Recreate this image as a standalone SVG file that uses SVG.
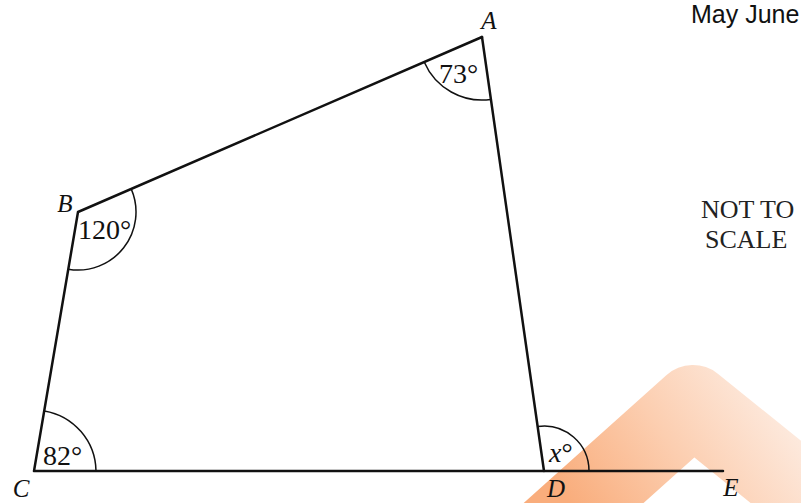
<svg xmlns="http://www.w3.org/2000/svg" width="801" height="503" viewBox="0 0 801 503">
  <defs>
    <linearGradient id="wm" gradientUnits="userSpaceOnUse" x1="760" y1="370" x2="570" y2="503">
      <stop offset="0" stop-color="#fdebe0"/>
      <stop offset="0.5" stop-color="#fcceb0"/>
      <stop offset="1" stop-color="#f9ad7c"/>
    </linearGradient>
    <style>
      .edge { stroke: #111; stroke-width: 2.5; fill: none; stroke-linecap: round; stroke-linejoin: round; }
      .arc { stroke: #111; stroke-width: 1.5; fill: none; }
      .pt { font-family: "Liberation Serif", "Times New Roman", serif; font-style: italic; font-size: 25px; fill: #111; text-anchor: middle; }
      .ang { font-family: "Liberation Serif", "Times New Roman", serif; font-size: 28px; fill: #111; }
      .note { font-family: "Liberation Serif", "Times New Roman", serif; font-size: 26px; fill: #222; }
      .hdr { font-family: "Liberation Sans", Arial, sans-serif; font-size: 25px; fill: #111; }
    </style>
  </defs>
  <rect width="801" height="503" fill="#fff"/>
  <g id="watermark">
    <path d="M 520 560 L 693 405 L 860 540" fill="none" stroke="url(#wm)" stroke-width="80" stroke-linejoin="round"/>
  </g>
  <g id="connectors">
    <polyline class="edge" points="482,37 78,212 34,471 723,471"/>
    <line class="edge" x1="482" y1="37" x2="544" y2="471"/>
  </g>
  <g id="angle-A">
    <path class="arc" d="M 424.2 62 A 63 63 0 0 0 490.9 99.4"/>
    <text class="ang" x="439" y="83">73°</text>
    <text class="pt" x="489" y="29">A</text>
  </g>
  <g id="angle-B">
    <path class="arc" d="M 131.2 188.9 A 58 58 0 0 1 68.3 269.2"/>
    <text class="ang" x="78" y="239">120°</text>
    <text class="pt" x="65" y="212">B</text>
  </g>
  <g id="angle-C">
    <path class="arc" d="M 44.3 410.9 A 62 62 0 0 1 96 471"/>
    <text class="ang" x="43" y="465">82°</text>
    <text class="pt" x="21" y="497">C</text>
  </g>
  <g id="angle-D">
    <path class="arc" d="M 537.6 426.4 A 45 45 0 0 1 589 471"/>
    <text class="ang" x="549" y="462"><tspan font-style="italic">x</tspan>°</text>
    <text class="pt" x="556" y="497">D</text>
  </g>
  <g id="point-E">
    <text class="pt" x="731" y="496">E</text>
  </g>
  <g id="notes">
    <text class="hdr" x="691" y="23">May June</text>
    <text class="note" x="701" y="218">NOT TO</text>
    <text class="note" x="705" y="248">SCALE</text>
  </g>
</svg>
